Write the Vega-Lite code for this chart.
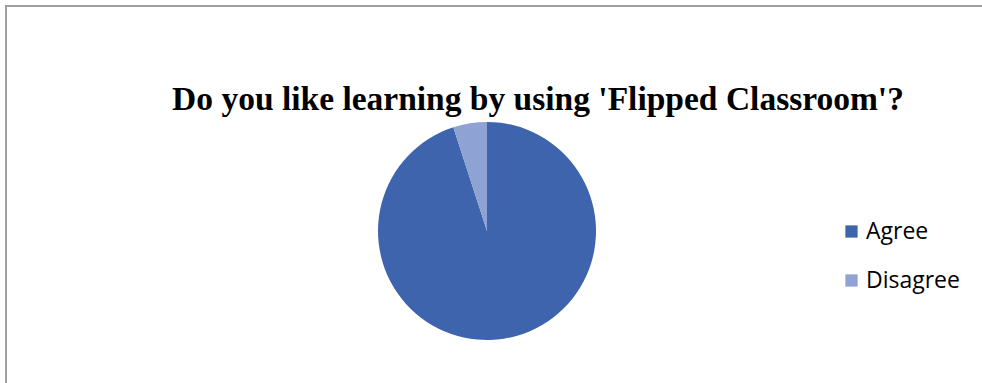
{
  "$schema": "https://vega.github.io/schema/vega-lite/v6.json",
  "width": 962,
  "height": 450,
  "autosize": {"type": "none"},
  "padding": {"left": 6, "top": 6, "right": 14, "bottom": 0},
  "background": "white",
  "config": {"view": {"stroke": null}},
  "title": {
    "text": "Do you like learning by using 'Flipped Classroom'?",
    "font": "Liberation Serif",
    "fontSize": 33.5,
    "fontWeight": "bold",
    "color": "#000000",
    "anchor": "middle",
    "dx": 51,
    "dy": 116
  },
  "data": {
    "values": [
      {"answer": "Agree", "percent": 95, "order": 1},
      {"answer": "Disagree", "percent": 5, "order": 2}
    ]
  },
  "layer": [
    {
      "mark": {"type": "rect", "fill": null, "fillOpacity": 0, "stroke": "#a0a0a0", "strokeWidth": 2},
      "encoding": {
        "x": {"datum": 0, "type": "quantitative", "scale": {"domain": [0, 1], "nice": false, "zero": false}, "axis": null},
        "x2": {"datum": 1.2},
        "y": {"datum": 1, "type": "quantitative", "scale": {"domain": [0, 1], "nice": false, "zero": false}, "axis": null},
        "y2": {"datum": -0.1}
      }
    },
    {
      "mark": {"type": "arc", "outerRadius": 109},
      "encoding": {
        "theta": {"field": "percent", "type": "quantitative", "stack": true},
        "order": {"field": "order", "type": "quantitative"},
        "color": {
          "field": "answer",
          "type": "nominal",
          "scale": {"domain": ["Agree", "Disagree"], "range": ["#3e64ad", "#8fa2d4"]},
          "legend": {
            "title": null,
            "orient": "none",
            "legendX": 834,
            "legendY": 214,
            "symbolType": "square",
            "symbolSize": 150,
            "symbolStrokeWidth": 0,
            "labelFont": "Open Sans",
            "labelFontSize": 23,
            "labelColor": "#000000",
            "labelOffset": 3,
            "rowPadding": 25
          }
        }
      }
    }
  ]
}
